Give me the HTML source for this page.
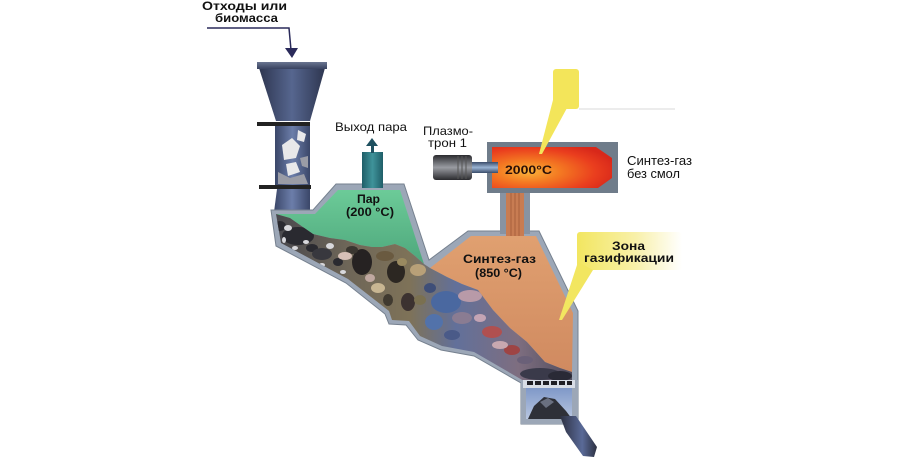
<!DOCTYPE html>
<html><head><meta charset="utf-8"><style>
html,body{margin:0;padding:0;background:#fff;}
svg{display:block;}
text{font-family:"Liberation Sans","DejaVu Sans",sans-serif;}
</style></head><body>
<svg width="900" height="458" viewBox="0 0 900 458" xmlns="http://www.w3.org/2000/svg">
<defs>
 <linearGradient id="hop" x1="0" x2="1" y1="0" y2="0">
  <stop offset="0" stop-color="#2e3650"/><stop offset="0.5" stop-color="#56668f"/><stop offset="1" stop-color="#2e3650"/>
 </linearGradient>
 <linearGradient id="rim" x1="0" x2="0" y1="0" y2="1">
  <stop offset="0" stop-color="#6a7590"/><stop offset="1" stop-color="#384260"/>
 </linearGradient>
 <linearGradient id="col" x1="0" x2="1" y1="0" y2="0">
  <stop offset="0" stop-color="#3a4668"/><stop offset="0.5" stop-color="#6c7eaa"/><stop offset="1" stop-color="#3a4668"/>
 </linearGradient>
 <linearGradient id="grn" x1="0" x2="0" y1="0" y2="1">
  <stop offset="0" stop-color="#6ccb98"/><stop offset="1" stop-color="#4ea77c"/>
 </linearGradient>
 <linearGradient id="org" x1="0" x2="0" y1="0" y2="1">
  <stop offset="0" stop-color="#e0a070"/><stop offset="1" stop-color="#d08a60"/>
 </linearGradient>
 <linearGradient id="pile" x1="0" x2="1" y1="0" y2="0">
  <stop offset="0" stop-color="#45454c"/><stop offset="0.25" stop-color="#6e6658"/>
  <stop offset="0.45" stop-color="#7e7258"/><stop offset="0.6" stop-color="#62709a"/>
  <stop offset="0.8" stop-color="#7e6e80"/><stop offset="1" stop-color="#4a4858"/>
 </linearGradient>
 <linearGradient id="teal" x1="0" x2="1" y1="0" y2="0">
  <stop offset="0" stop-color="#1f5e68"/><stop offset="0.5" stop-color="#3f939a"/><stop offset="1" stop-color="#1f5e68"/>
 </linearGradient>
 <radialGradient id="flame" cx="0.3" cy="0.6" r="0.75">
  <stop offset="0" stop-color="#f9b43a"/><stop offset="0.35" stop-color="#f47a22"/>
  <stop offset="0.75" stop-color="#ea3e1e"/><stop offset="1" stop-color="#d8281a"/>
 </radialGradient>
 <linearGradient id="torch" x1="0" x2="0" y1="0" y2="1">
  <stop offset="0" stop-color="#2a2a2e"/><stop offset="0.5" stop-color="#9a9ca2"/><stop offset="1" stop-color="#2a2a2e"/>
 </linearGradient>
 <linearGradient id="noz" x1="0" x2="0" y1="0" y2="1">
  <stop offset="0" stop-color="#3a4c6a"/><stop offset="0.5" stop-color="#9ab4d4"/><stop offset="1" stop-color="#3a4c6a"/>
 </linearGradient>
 <linearGradient id="box" x1="0" x2="0" y1="0" y2="1">
  <stop offset="0" stop-color="#7f98c8"/><stop offset="1" stop-color="#b8c6e0"/>
 </linearGradient>
 <linearGradient id="yel2" x1="0" x2="1" y1="0" y2="0">
  <stop offset="0" stop-color="#f2e660"/><stop offset="0.55" stop-color="#f8f0a8"/><stop offset="1" stop-color="#ffffff"/>
 </linearGradient>
 <linearGradient id="outl" x1="0" x2="1" y1="0" y2="0">
  <stop offset="0" stop-color="#2c3040"/><stop offset="0.6" stop-color="#5a6a98"/><stop offset="1" stop-color="#2c3040"/>
 </linearGradient>
 <clipPath id="pc"><polygon points="276,214 290,218 300,225 313,234 330,238 345,240 360,245 372,247 382,247 395,244 405,248 415,256 424,264 430,268 447,277 462,284 478,290 493,310 510,328 527,342 545,362 560,368 572,372 572,381 524,381 474,352 442,346 420,336 409,321 392,320 389,311 348,279 281,243"/></clipPath>
</defs>

<!-- top label and arrow -->
<text x="202" y="10" font-size="12" font-weight="bold" fill="#111" textLength="85" lengthAdjust="spacingAndGlyphs">Отходы или</text>
<text x="215" y="22" font-size="12" font-weight="bold" fill="#111" textLength="63" lengthAdjust="spacingAndGlyphs">биомасса</text>
<polyline points="207,28 289,28 291,50" fill="none" stroke="#2a2a5a" stroke-width="1.5"/>
<polygon points="285,48 298,48 292,58" fill="#2a2a5a"/>

<!-- hopper -->
<polygon points="259,68 325,68 310,121 276,121" fill="url(#hop)"/>
<rect x="257" y="62" width="70" height="7" fill="url(#rim)"/>
<rect x="275" y="125" width="35" height="61" fill="url(#col)"/>
<g fill="#e8e8ea">
 <polygon points="282,145 292,138 300,146 296,158 284,160"/>
 <polygon points="298,130 306,134 304,142 297,140"/>
 <polygon points="286,164 296,162 300,172 288,176"/>
</g>
<g fill="#9a9ca6">
 <polygon points="278,172 290,178 304,174 308,184 278,184"/>
 <polygon points="300,158 308,156 308,168 302,166"/>
</g>
<rect x="257" y="122" width="53" height="4" fill="#222"/>
<rect x="259" y="185" width="52" height="4" fill="#222"/>
<polygon points="277,189 310,189 310,212 274,212" fill="url(#col)"/>

<!-- main body wall -->
<polygon points="271,210 313,210 336,184 404,184 429,260 468,231 539,231 578,311 578,424 521,424 521,383 474,356 441,350 418,340 406,325 389,324 385,314 346,283 276,246" fill="#9ca7b7" stroke="#76818f" stroke-width="1"/>
<!-- pipe to reactor -->
<rect x="500" y="190" width="30" height="44" fill="#8893a2"/>
<rect x="506" y="190" width="18" height="46" fill="#c87c52"/>
<g stroke="#a8603c" stroke-width="1"><line x1="511" y1="190" x2="511" y2="236"/><line x1="515" y1="190" x2="515" y2="236"/><line x1="519" y1="190" x2="519" y2="236"/></g>

<!-- green chamber -->
<polygon points="276,214 315,214 338,190 400,190 424,264 415,256 405,248 395,244 382,247 372,247 360,245 345,240 330,238 313,234 300,225 290,218" fill="url(#grn)"/>
<!-- orange chamber -->
<polygon points="430,268 471,236 536,236 573,313 572,372 560,368 545,362 527,342 510,328 493,310 478,290 462,284 447,277" fill="url(#org)"/>

<!-- pile -->
<g clip-path="url(#pc)">
 <rect x="270" y="205" width="310" height="185" fill="url(#pile)"/>
 <g fill="#2a2a30">
  <ellipse cx="298" cy="236" rx="16" ry="9"/>
  <ellipse cx="280" cy="226" rx="6" ry="5"/>
  <ellipse cx="312" cy="248" rx="6" ry="4"/>
  <ellipse cx="338" cy="262" rx="5" ry="4"/>
 </g>
 <ellipse cx="322" cy="254" rx="10" ry="6" fill="#38383e"/>
 <ellipse cx="362" cy="262" rx="10" ry="13" fill="#262222"/>
 <ellipse cx="396" cy="272" rx="9" ry="11" fill="#2c2722"/>
 <ellipse cx="408" cy="302" rx="7" ry="9" fill="#3c3230"/>
 <ellipse cx="352" cy="250" rx="6" ry="4" fill="#3a3630"/>
 <ellipse cx="388" cy="300" rx="5" ry="6" fill="#403a30"/>
 <g fill="#d8d8dc">
  <ellipse cx="288" cy="228" rx="4" ry="3"/>
  <ellipse cx="306" cy="242" rx="3" ry="2"/>
  <ellipse cx="318" cy="232" rx="3" ry="3"/>
  <ellipse cx="284" cy="240" rx="2" ry="3"/>
  <ellipse cx="330" cy="246" rx="4" ry="3"/>
  <ellipse cx="295" cy="248" rx="3" ry="2"/>
  <ellipse cx="322" cy="265" rx="3" ry="2"/>
  <ellipse cx="343" cy="272" rx="3" ry="2"/>
 </g>
 <ellipse cx="345" cy="256" rx="7" ry="4" fill="#d6bfb6"/>
 <ellipse cx="370" cy="278" rx="5" ry="4" fill="#c0a8a0"/>
 <ellipse cx="378" cy="288" rx="7" ry="5" fill="#c8b692"/>
 <ellipse cx="385" cy="256" rx="9" ry="5" fill="#6a5a40"/>
 <ellipse cx="418" cy="270" rx="8" ry="6" fill="#b8a078"/>
 <ellipse cx="402" cy="262" rx="5" ry="4" fill="#9a8a60"/>
 <ellipse cx="420" cy="300" rx="6" ry="5" fill="#7a7050"/>
 <ellipse cx="446" cy="302" rx="15" ry="11" fill="#4a68a0"/>
 <ellipse cx="434" cy="322" rx="9" ry="8" fill="#5272aa"/>
 <ellipse cx="430" cy="288" rx="6" ry="5" fill="#3e4e78"/>
 <ellipse cx="470" cy="296" rx="12" ry="6" fill="#b89aa8"/>
 <ellipse cx="462" cy="318" rx="10" ry="6" fill="#8a7c92"/>
 <ellipse cx="452" cy="335" rx="8" ry="5" fill="#4a5a88"/>
 <ellipse cx="480" cy="318" rx="6" ry="4" fill="#c4a4b4"/>
 <ellipse cx="492" cy="332" rx="10" ry="6" fill="#b05050"/>
 <ellipse cx="512" cy="350" rx="8" ry="5" fill="#9e4444"/>
 <ellipse cx="500" cy="345" rx="8" ry="4" fill="#c8a8b0"/>
 <ellipse cx="525" cy="360" rx="8" ry="4" fill="#6a6078"/>
 <ellipse cx="540" cy="374" rx="20" ry="6" fill="#3a3a4a"/>
 <ellipse cx="560" cy="376" rx="12" ry="5" fill="#2a2a36"/>
</g>

<!-- grate and lower box -->
<rect x="521" y="380" width="57" height="44" fill="#9ca7b7"/>
<rect x="526" y="388" width="46" height="31" fill="url(#box)"/>
<rect x="523" y="380" width="52" height="8" fill="#d8dde6"/>
<g fill="#1e1e24">
 <rect x="527" y="381" width="6" height="4"/><rect x="535" y="381" width="6" height="4"/><rect x="543" y="381" width="6" height="4"/><rect x="551" y="381" width="6" height="4"/><rect x="559" y="381" width="6" height="4"/><rect x="567" y="381" width="5" height="4"/>
</g>
<polygon points="528,419 534,406 544,397 555,399 566,411 572,419" fill="#2e3038"/>
<polygon points="540,402 548,398 554,402 546,408" fill="#6a7080"/>
<polygon points="560,416 576,416 597,447 594,457 583,456 566,432" fill="url(#outl)"/>

<!-- steam pipe -->
<rect x="362" y="152" width="21" height="36" fill="url(#teal)"/>
<rect x="371" y="144" width="3" height="9" fill="#1e5060"/>
<polygon points="366,146 378,146 372,138" fill="#1e5060"/>

<!-- plasma reactor -->
<rect x="487" y="142" width="131" height="51" fill="#6f7c8a"/>
<polygon points="492,147 596,147 612,158 612,178 598,188 492,188" fill="url(#flame)"/>
<rect x="433" y="155" width="39" height="25" rx="3" fill="url(#torch)"/>
<g stroke="#555" stroke-width="1"><line x1="458" y1="156" x2="458" y2="179"/><line x1="462" y1="156" x2="462" y2="179"/><line x1="466" y1="156" x2="466" y2="179"/></g>
<rect x="472" y="162" width="26" height="11" fill="url(#noz)"/>

<!-- top callout -->
<rect x="553" y="69" width="26" height="40" rx="3" fill="#f3e55a"/>
<polygon points="553,100 567,108 542,154 539,154" fill="#f3e55a"/>
<line x1="579" y1="109" x2="675" y2="109" stroke="#d8d8d8" stroke-width="1"/>

<!-- zona callout -->
<rect x="577" y="232" width="105" height="38" rx="3" fill="url(#yel2)"/>
<polygon points="578,262 593,270 562,320 559,320" fill="#f2e660"/>

<!-- labels -->
<text x="335" y="131" font-size="12" fill="#111" textLength="72" lengthAdjust="spacingAndGlyphs">Выход пара</text>
<text x="357" y="203" font-size="12" font-weight="bold" fill="#111" textLength="23" lengthAdjust="spacingAndGlyphs">Пар</text>
<text x="346" y="216" font-size="12" font-weight="bold" fill="#111" textLength="48" lengthAdjust="spacingAndGlyphs">(200 °C)</text>
<text x="423" y="135" font-size="12" fill="#111" textLength="50" lengthAdjust="spacingAndGlyphs">Плазмо-</text>
<text x="428" y="147" font-size="12" fill="#111" textLength="39" lengthAdjust="spacingAndGlyphs">трон 1</text>
<text x="505" y="174" font-size="12" font-weight="bold" fill="#2a1008" textLength="47" lengthAdjust="spacingAndGlyphs">2000°C</text>
<text x="627" y="165" font-size="12.5" fill="#111" textLength="65" lengthAdjust="spacingAndGlyphs">Синтез-газ</text>
<text x="627" y="178" font-size="12.5" fill="#111" textLength="53" lengthAdjust="spacingAndGlyphs">без смол</text>
<text x="463" y="263" font-size="12" font-weight="bold" fill="#111" textLength="73" lengthAdjust="spacingAndGlyphs">Синтез-газ</text>
<text x="475" y="277" font-size="12" font-weight="bold" fill="#111" textLength="47" lengthAdjust="spacingAndGlyphs">(850 °C)</text>
<text x="612" y="250" font-size="12" font-weight="bold" fill="#111" textLength="33" lengthAdjust="spacingAndGlyphs">Зона</text>
<text x="584" y="262" font-size="12" font-weight="bold" fill="#111" textLength="90" lengthAdjust="spacingAndGlyphs">газификации</text>
</svg>
</body></html>
